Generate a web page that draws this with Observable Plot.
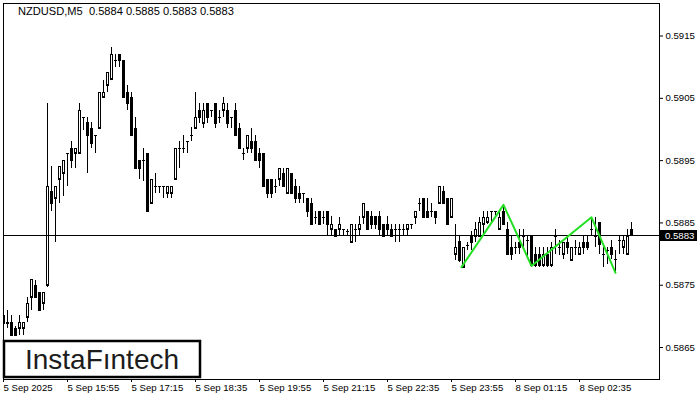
<!DOCTYPE html>
<html><head><meta charset="utf-8">
<script src="https://cdn.jsdelivr.net/npm/d3@7"></script>
<script src="https://cdn.jsdelivr.net/npm/@observablehq/plot@0.6"></script>
<style>
html,body{margin:0;padding:0;background:#fff;}
#chart svg{display:block;}
</style></head><body><div id="chart"></div>
<script>
const symbolTitle = "NZDUSD,M5  0.5884 0.5885 0.5883 0.5883";
const lastPrice = 0.5883;
const yTicks = [0.5865, 0.5875, 0.5885, 0.5895, 0.5905, 0.5915];
const tickIdx = [0, 16, 32, 48, 64, 80, 96, 112, 128, 144];
const tickLabels = ["5 Sep 2025","5 Sep 15:55","5 Sep 17:15","5 Sep 18:35","5 Sep 19:55","5 Sep 21:15","5 Sep 22:35","5 Sep 23:55","8 Sep 01:15","8 Sep 02:35"];

const open = [
0.58702,0.58688,0.58690,0.58680,0.58680,0.58680,0.58699,0.58730,0.58749,0.58739,
0.58720,0.58749,0.58900,0.58890,0.58919,0.58929,0.58961,0.58970,0.58961,0.58961,
0.59020,0.59011,0.59001,0.58990,0.59001,0.59051,0.59070,0.59081,0.59110,0.59120,
0.59110,0.59060,0.59051,0.59001,0.58950,0.58950,0.58961,0.58881,0.58909,0.58909,
0.58908,0.58898,0.58898,0.58919,0.58970,0.58970,0.58980,0.58990,0.59001,0.59030,
0.59009,0.59041,0.59030,0.59041,0.59020,0.59030,0.59030,0.59020,0.59030,0.59001,
0.58961,0.58970,0.58980,0.58980,0.58961,0.58961,0.58919,0.58919,0.58908,0.58919,
0.58929,0.58898,0.58929,0.58909,0.58898,0.58898,0.58890,0.58881,0.58858,0.58869,
0.58858,0.58869,0.58840,0.58840,0.58840,0.58840,0.58837,0.58818,0.58840,0.58840,
0.58858,0.58869,0.58860,0.58860,0.58860,0.58848,0.58848,0.58840,0.58840,0.58840,
0.58840,0.58840,0.58848,0.58858,0.58881,0.58890,0.58869,0.58869,0.58869,0.58881,
0.58900,0.58890,0.58858,0.58800,0.58820,0.58779,0.58813,0.58829,0.58829,0.58829,
0.58848,0.58850,0.58869,0.58869,0.58840,0.58869,0.58840,0.58810,0.58810,0.58818,
0.58829,0.58821,0.58829,0.58800,0.58800,0.58781,0.58800,0.58781,0.58829,0.58810,
0.58800,0.58818,0.58789,0.58810,0.58800,0.58818,0.58818,0.58840,0.58829,0.58850,
0.58800,0.58805,0.58810,0.58792,0.58821,0.58810,0.58800,0.5884];
const high = [
0.58720,0.58709,0.58701,0.58683,0.58701,0.58690,0.58730,0.58760,0.58757,0.58739,
0.58739,0.59041,0.58940,0.58909,0.58940,0.58950,0.58961,0.58980,0.58970,0.59041,
0.59020,0.59020,0.59011,0.58990,0.59060,0.59078,0.59091,0.59131,0.59121,0.59121,
0.59110,0.59070,0.59060,0.59020,0.58950,0.58970,0.58961,0.58919,0.58929,0.58909,
0.58908,0.58908,0.58908,0.58970,0.58980,0.58990,0.58980,0.59003,0.59059,0.59041,
0.59041,0.59041,0.59030,0.59041,0.59030,0.59051,0.59041,0.59020,0.59041,0.59009,
0.58970,0.58990,0.59001,0.58990,0.58970,0.58961,0.58919,0.58919,0.58919,0.58938,
0.58938,0.58938,0.58929,0.58919,0.58908,0.58898,0.58890,0.58890,0.58869,0.58869,
0.58869,0.58869,0.58860,0.58840,0.58858,0.58840,0.58840,0.58848,0.58848,0.58860,
0.58881,0.58869,0.58869,0.58860,0.58869,0.58848,0.58860,0.58848,0.58848,0.58848,
0.58848,0.58848,0.58848,0.58869,0.58890,0.58890,0.58890,0.58881,0.58869,0.58909,
0.58909,0.58890,0.58890,0.58848,0.58829,0.58810,0.58818,0.58837,0.58850,0.58858,
0.58869,0.58869,0.58869,0.58869,0.58869,0.58877,0.58850,0.58829,0.58818,0.58840,
0.58840,0.58829,0.58829,0.58810,0.58810,0.58810,0.58810,0.58818,0.58840,0.58821,
0.58818,0.58829,0.58810,0.58821,0.58818,0.58829,0.58829,0.58858,0.58858,0.58850,
0.58810,0.58810,0.58821,0.58805,0.58829,0.58829,0.58840,0.5885];
const low = [
0.58686,0.58680,0.58667,0.58667,0.58669,0.58669,0.58690,0.58709,0.58728,0.58709,
0.58709,0.58747,0.58869,0.58818,0.58881,0.58892,0.58908,0.58938,0.58938,0.58961,
0.58998,0.58929,0.58970,0.58961,0.59001,0.59051,0.59060,0.59078,0.59100,0.59100,
0.59049,0.59030,0.58990,0.58938,0.58919,0.58917,0.58869,0.58881,0.58898,0.58898,
0.58890,0.58890,0.58890,0.58919,0.58938,0.58961,0.58961,0.58980,0.59001,0.59009,
0.59001,0.59009,0.59019,0.59001,0.59009,0.59020,0.59001,0.59001,0.58990,0.58970,
0.58950,0.58961,0.58961,0.58950,0.58938,0.58909,0.58890,0.58890,0.58898,0.58908,
0.58908,0.58898,0.58898,0.58881,0.58881,0.58881,0.58858,0.58848,0.58848,0.58848,
0.58848,0.58829,0.58829,0.58829,0.58829,0.58829,0.58829,0.58818,0.58818,0.58829,
0.58848,0.58840,0.58840,0.58840,0.58829,0.58829,0.58829,0.58829,0.58818,0.58818,
0.58829,0.58829,0.58840,0.58848,0.58869,0.58858,0.58858,0.58858,0.58848,0.58881,
0.58881,0.58848,0.58858,0.58789,0.58786,0.58779,0.58805,0.58805,0.58818,0.58826,
0.58831,0.58848,0.58850,0.58858,0.58840,0.58848,0.58797,0.58789,0.58800,0.58800,
0.58810,0.58792,0.58779,0.58779,0.58779,0.58779,0.58779,0.58779,0.58800,0.58797,
0.58792,0.58800,0.58789,0.58797,0.58797,0.58800,0.58805,0.58829,0.58810,0.58800,
0.58779,0.58784,0.58792,0.58770,0.58800,0.58800,0.58800,0.5883];
const close = [
0.58688,0.58690,0.58669,0.58669,0.58690,0.58690,0.58720,0.58760,0.58730,0.58709,
0.58739,0.58909,0.58881,0.58909,0.58940,0.58950,0.58961,0.58950,0.58970,0.59030,
0.59020,0.58990,0.58978,0.58990,0.59060,0.59060,0.59091,0.59120,0.59110,0.59110,
0.59051,0.59041,0.58990,0.58938,0.58938,0.58950,0.58869,0.58919,0.58909,0.58909,
0.58908,0.58908,0.58908,0.58970,0.58970,0.58970,0.58980,0.58990,0.59020,0.59020,
0.59030,0.59019,0.59030,0.59009,0.59020,0.59041,0.59009,0.59020,0.58990,0.58970,
0.58961,0.58990,0.58970,0.58950,0.58950,0.58909,0.58898,0.58898,0.58908,0.58938,
0.58909,0.58938,0.58898,0.58890,0.58890,0.58898,0.58869,0.58848,0.58858,0.58848,
0.58858,0.58848,0.58848,0.58829,0.58848,0.58840,0.58837,0.58848,0.58840,0.58848,
0.58881,0.58840,0.58848,0.58848,0.58840,0.58829,0.58840,0.58829,0.58840,0.58840,
0.58840,0.58848,0.58848,0.58869,0.58881,0.58858,0.58858,0.58869,0.58858,0.58909,
0.58881,0.58848,0.58890,0.58810,0.58789,0.58810,0.58813,0.58818,0.58840,0.58850,
0.58858,0.58858,0.58869,0.58869,0.58858,0.58848,0.58800,0.58800,0.58810,0.58810,
0.58829,0.58821,0.58781,0.58781,0.58781,0.58800,0.58781,0.58810,0.58829,0.58810,
0.58818,0.58810,0.58810,0.58810,0.58810,0.58810,0.58810,0.58840,0.58829,0.58816,
0.58800,0.58805,0.58800,0.58792,0.58821,0.58821,0.58829,0.5883];

// pattern (green zig-zag) vertices: bar index and price
const patternIdx = [114.5, 125, 132, 147, 153];
const patternPrice = [0.58779, 0.58879, 0.58781, 0.58859, 0.58770];

const bars = open.map((o, i) => ({i, o, h: high[i], l: low[i], c: close[i]}));
const bull = bars.filter(d => d.c > d.o);
const pattern = patternIdx.map((i, k) => ({i, p: patternPrice[k]}));
const W = 0.375;
const bx1 = d => d.i - W, bx2 = d => d.i + W;
const crisp = {clip: true, shapeRendering: "crispEdges"};

const plot = Plot.plot({
  width: 700, height: 400,
  marginLeft: 3, marginRight: 41, marginTop: 3, marginBottom: 21,
  style: {fontFamily: "'Liberation Sans', Arial, sans-serif", fontSize: "9.6px", color: "#000", background: "#fff", overflow: "visible"},
  x: {domain: [0, 164]},
  y: {domain: [0.585987, 0.592022]},
  marks: [
    Plot.ruleX(bars, {x: "i", y1: "l", y2: "h", stroke: "#000", ...crisp}),
    Plot.rect(bars, {x1: bx1, x2: bx2, y1: d => Math.min(d.o, d.c), y2: d => Math.max(d.o, d.c), fill: "#000", ...crisp}),
    Plot.ruleY(bars, {y: "o", x1: bx1, x2: bx2, stroke: "#000", ...crisp}),
    Plot.ruleY(bars, {y: "c", x1: bx1, x2: bx2, stroke: "#000", ...crisp}),
    Plot.rect(bull, {x1: bx1, x2: bx2, y1: "o", y2: "c", fill: "#fff", inset: 1, ...crisp}),
    Plot.ruleY([lastPrice], {stroke: "#000", shapeRendering: "crispEdges"}),
    Plot.line(pattern, {x: "i", y: "p", stroke: "#22e022", strokeWidth: 2}),
    Plot.frame({stroke: "#000", shapeRendering: "crispEdges"}),
    Plot.axisY({anchor: "right", ticks: yTicks, tickFormat: d3.format(".4f"), tickSize: 3, tickPadding: 3, label: null}),
    Plot.axisX({ticks: tickIdx, tickFormat: d => tickLabels[tickIdx.indexOf(d)], textAnchor: "start", tickSize: 3, tickPadding: 2, label: null})
  ]
});

const svg = d3.select(plot);
const yS = plot.scale("y");
const yp = yS.apply(lastPrice) + 0.5;
// current price box
svg.append("rect").attr("x", 660).attr("y", Math.round(yp - 5.5)).attr("width", 37).attr("height", 11).attr("fill", "#000");
svg.append("text").attr("x", 665).attr("y", yp + 3.5).attr("fill", "#fff").attr("text-anchor", "start").style("font-size", "9.6px").text(lastPrice.toFixed(4));
// header
svg.append("text").attr("x", 18).attr("y", 14.5).attr("fill", "#000").attr("text-anchor", "start").style("white-space", "pre").attr("xml:space", "preserve").style("font-size", "11.1px").text(symbolTitle);
// watermark logo
svg.append("rect").attr("x", 4).attr("y", 341).attr("width", 196).attr("height", 36).attr("fill", "#fff").attr("stroke", "#000").attr("stroke-width", 2.5);
svg.append("text").attr("x", 102).attr("y", 369).attr("text-anchor", "middle").attr("fill", "#1c1c1c")
  .style("font-size", "28px").style("font-family", "'Liberation Sans', Arial, sans-serif").text("InstaF\u0131ntech");

document.getElementById("chart").appendChild(plot);
</script></body></html>
